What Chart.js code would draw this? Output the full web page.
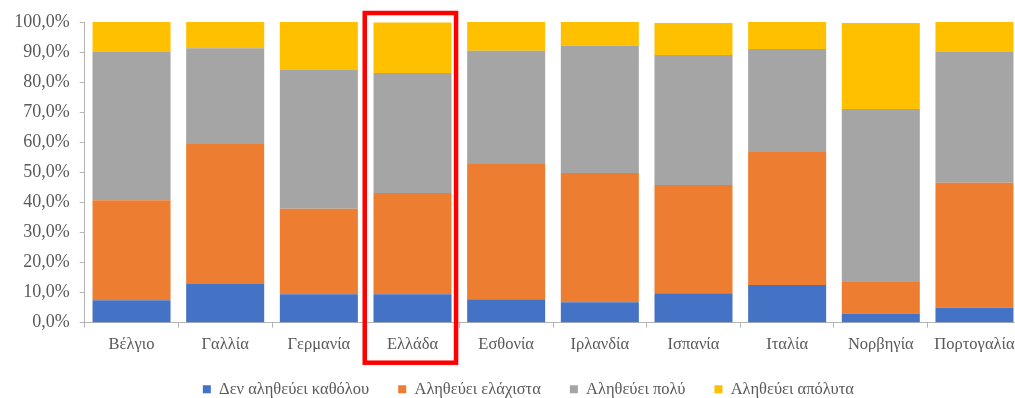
<!DOCTYPE html>
<html>
<head>
<meta charset="utf-8">
<script src="https://cdn.jsdelivr.net/npm/chart.js@4.4.1/dist/chart.umd.min.js"></script>
<style>
  html, body { margin: 0; padding: 0; background: #fff; overflow: hidden; }
  #wrap { width: 1056px; height: 398px; }
</style>
</head>
<body>
<div id="wrap"><canvas id="c" width="1056" height="398"></canvas></div>
<script>
// Countries along the x axis
const countries = ['Βέλγιο', 'Γαλλία', 'Γερμανία', 'Ελλάδα', 'Εσθονία', 'Ιρλανδία', 'Ισπανία', 'Ιταλία', 'Νορβηγία', 'Πορτογαλία'];

// Answer shares (%) per country, stacked bottom to top
const notAtAll   = [7.5, 12.9, 9.5, 9.5, 7.8, 6.8, 9.8, 12.5, 3.1, 5.0];
const slightly   = [33.2, 46.5, 28.4, 33.6, 45.0, 43.0, 36.0, 44.3, 10.4, 41.5];
const veryMuch   = [49.3, 31.9, 46.1, 39.9, 37.6, 42.4, 43.2, 34.2, 57.6, 43.5];
const absolutely = [10.0, 8.7, 16.0, 16.8, 9.6, 7.8, 10.7, 9.0, 28.6, 10.0];

const seriesNames = ['Δεν αληθεύει καθόλου', 'Αληθεύει ελάχιστα', 'Αληθεύει πολύ', 'Αληθεύει απόλυτα'];
const seriesColors = ['#4472C4', '#ED7D31', '#A5A5A5', '#FFC000'];

// Category that gets the red frame
const highlighted = 'Ελλάδα';

const axisGrey = '#B4B4B4';
const textGrey = '#595959';
const serif = '"Liberation Serif", "DejaVu Serif", serif';

// Legend: fixed band height at the bottom, centred under the whole figure
const legendBand = {
  id: 'legendBand',
  beforeLayout(chart) {
    const lg = chart.legend;
    if (lg && !lg._bandPatched) {
      const fit = lg.fit.bind(lg);
      lg.fit = function () { fit(); this.height = 46; };
      lg._bandPatched = true;
    }
  },
  afterLayout(chart) {
    const lg = chart.legend;
    if (lg) {
      lg.left = 35.5;
      lg.right = chart.chartArea.right;
      lg.width = lg.right - lg.left;
    }
  }
};

// Red frame around one category, including its tick label
const highlightFrame = {
  id: 'highlightFrame',
  afterDraw(chart) {
    const x = chart.scales.x;
    const idx = countries.indexOf(highlighted);
    if (idx < 0) return;
    const cw = x.width / countries.length;
    const cx = x.getPixelForValue(idx);
    const left = cx - cw * 0.51;
    const right = cx + cw * 0.465;
    const top = chart.chartArea.top - 9;
    const bottom = chart.chartArea.bottom + 40;
    const ctx = chart.ctx;
    ctx.save();
    ctx.strokeStyle = '#FF0000';
    ctx.lineWidth = 4.5;
    ctx.strokeRect(left, top, right - left, bottom - top);
    ctx.restore();
  }
};

const datasets = [notAtAll, slightly, veryMuch, absolutely].map((d, i) => ({
  label: seriesNames[i],
  data: d,
  backgroundColor: seriesColors[i],
  borderWidth: 0,
  categoryPercentage: 1.0,
  barPercentage: 0.833
}));

new Chart(document.getElementById('c'), {
  type: 'bar',
  data: { labels: countries, datasets },
  plugins: [legendBand, highlightFrame],
  options: {
    responsive: false,
    animation: false,
    layout: { padding: { top: 22, right: 34.7, left: 0, bottom: 0 } },
    plugins: {
      tooltip: { enabled: false },
      legend: {
        position: 'bottom',
        labels: {
          boxWidth: 8,
          boxHeight: 8,
          padding: 29,
          color: textGrey,
          font: { family: serif, size: 16.5 }
        }
      }
    },
    scales: {
      x: {
        stacked: true,
        border: { display: true, color: axisGrey, width: 1 },
        grid: { display: true, drawOnChartArea: false, drawTicks: true, tickLength: 5, color: axisGrey, offset: true },
        ticks: {
          color: textGrey,
          padding: 7,
          maxRotation: 0,
          autoSkip: false,
          font: { family: serif, size: 16.5 }
        },
        afterFit(scale) { scale.height = 29.3; }
      },
      y: {
        stacked: true,
        min: 0,
        max: 100,
        border: { display: true, color: axisGrey, width: 1 },
        grid: { display: true, drawOnChartArea: false, drawTicks: true, tickLength: 5, color: axisGrey },
        ticks: {
          stepSize: 10,
          color: textGrey,
          padding: 10,
          font: { family: serif, size: 18 },
          callback: v => v.toFixed(1).replace('.', ',') + '%'
        },
        afterFit(scale) { scale.width = 84.7; }
      }
    }
  }
});
</script>
</body>
</html>
